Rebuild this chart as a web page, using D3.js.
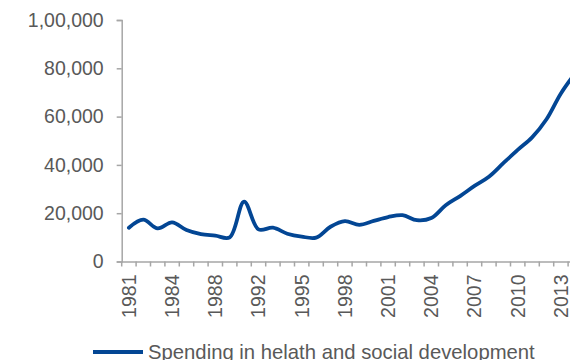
<!DOCTYPE html>
<html><head><meta charset="utf-8">
<script src="https://cdn.jsdelivr.net/npm/d3@7/dist/d3.min.js"></script>
<style>body{margin:0;background:#fff;overflow:hidden}svg{display:block}</style>
</head><body><svg id="c" width="570" height="360"></svg>
<script>
const categories = ["1981","1982","1983","1984","1985","1986","1988","1989","1990","1992","1993","1994","1995","1996","1997","1998","1999","2000","2001","2002","2003","2004","2005","2006","2007","2008","2009","2010","2011","2012","2013","2014"];
const spending = [14000,17300,13700,16200,13000,11300,10700,10000,24800,13300,14000,11500,10300,9900,14400,16700,15200,16800,18400,19200,17100,18000,23300,27100,31300,35100,40700,46200,51400,58900,69600,78000];
const yTicks = [0,20000,40000,60000,80000,100000];
const yTickLabels = ["0","20,000","40,000","60,000","80,000","1,00,000"];
const seriesName = "Spending in helath and social development";

const svg = d3.select("#c");
const x0 = 121.7, step = 14.4;
const x = d3.scaleBand().domain(categories).range([x0, x0 + step*categories.length]).padding(0);
const y = d3.scaleLinear().domain([0,100000]).range([261.5,20]);
const axisCol = "#a6a6a6", txtCol = "#595959", lineCol = "#034694";
const font = "Liberation Sans, Arial, sans-serif";

// y axis
const ya = svg.append("g").attr("transform",`translate(${x0},0)`)
  .call(d3.axisLeft(y).tickValues(yTicks).tickSize(5).tickPadding(13).tickFormat((d,i)=>yTickLabels[i]));
ya.select(".domain").attr("stroke",axisCol).attr("stroke-width",1.5);
ya.selectAll(".tick line").attr("stroke",axisCol).attr("stroke-width",1.5);
ya.selectAll("text").attr("fill",txtCol).style("font-family",font).style("font-size","19.5px");

// x axis
const xa = svg.append("g").attr("transform",`translate(0,${y(0)})`)
  .call(d3.axisBottom(x).tickSize(0).tickFormat((d,i)=> i%3===0 ? d : ""));
xa.select(".domain").attr("stroke",axisCol).attr("stroke-width",1.5);
xa.selectAll(".tick text").attr("fill",txtCol).style("font-family",font).style("font-size","19.5px")
  .attr("text-anchor","end").attr("transform","rotate(-90)").attr("x",-13).attr("y",0).attr("dy","0.35em");
// boundary ticks
const bounds = categories.map((c)=>x(c)).concat([x(categories[categories.length-1])+x.bandwidth()]);
svg.append("g").selectAll("line").data(bounds).join("line")
  .attr("x1",d=>d).attr("x2",d=>d).attr("y1",y(0)).attr("y2",y(0)+5)
  .attr("stroke",axisCol).attr("stroke-width",1.5);

// line
const line = d3.line().x((d,i)=>x(categories[i])+x.bandwidth()/2).y(d=>y(d)).curve(d3.curveCatmullRom.alpha(0.5));
svg.append("path").datum(spending).attr("d",line).attr("fill","none")
  .attr("stroke",lineCol).attr("stroke-width",3.8).attr("stroke-linejoin","round").attr("stroke-linecap","round");

// legend
svg.append("line").attr("x1",93).attr("x2",143).attr("y1",352).attr("y2",352).attr("stroke",lineCol).attr("stroke-width",3.8);
svg.append("text").attr("x",148).attr("y",358.5).text(seriesName)
  .attr("fill",txtCol).style("font-family",font).style("font-size","20.3px");
</script></body></html>
